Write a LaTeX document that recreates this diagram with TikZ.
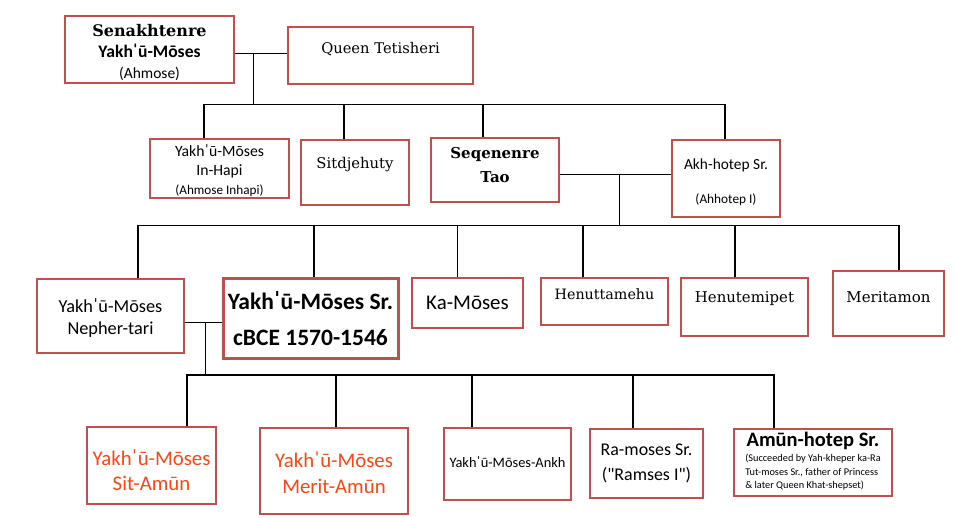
\documentclass[tikz,border=0pt]{standalone}
\usepackage{fontspec}
\setmainfont{Carlito}[Ligatures=TeXOff]
\newfontfamily\georg{DejaVu Serif}
\usetikzlibrary{arrows}
\definecolor{boxred}{RGB}{192,80,77}
\definecolor{kidred}{RGB}{250,70,20}
\newcommand\fsz[2]{\fontsize{#1}{#2}\selectfont}
\newcommand\vl{ˈ}

\begin{document}
\begin{tikzpicture}[x=1pt,y=-1pt,line width=1.3pt]
    \tikzstyle{box}=[draw=boxred,line width=1.4pt,inner sep=0pt]
    \tikzstyle{txt}=[align=center,inner sep=0pt]
    \useasboundingbox (0,0) rectangle (958,518);

    % first generation
    \node[box,minimum width=169,minimum height=67,
      label={[txt,yshift=-3,font=\fsz{17.6}{21}]center:{\georg\bfseries\fsz{16}{20}Senakhtenre}\\{\bfseries Yakh\vl ū-Mōses}\\{\fsz{15.5}{18}(Ahmose)}}] (sen) at (149.5,49.5) {};
    \node[box,minimum width=185,minimum height=57,
      label={[txt,yshift=6.5,font=\georg\fsz{14.7}{18}]center:Queen Tetisheri}] (tet) at (380.5,55.5) {};

    % second generation
    \node[box,minimum width=139,minimum height=59,
      label={[txt,yshift=-2,font=\fsz{15.7}{19}]center:Yakh\vl ū-Mōses\\In-Hapi\\{\fsz{13.2}{16}(Ahmose Inhapi)}}] (inhapi) at (219.5,168.5) {};
    \node[box,minimum width=108,minimum height=65,
      label={[txt,yshift=7.5,font=\georg\fsz{14.8}{18}]center:Sitdjehuty}] (sit) at (355,172.5) {};
    \node[box,minimum width=128,minimum height=64,
      label={[txt,yshift=5,font=\georg\bfseries\fsz{15}{23.4}]center:Seqenenre\\Tao}] (seq) at (495,170) {};
    \node[box,minimum width=108,minimum height=77,
      label={[txt,yshift=-4,font=\fsz{15.4}{18}]center:Akh-hotep Sr.\\[16pt]{\fsz{13.3}{16}(Ahhotep I)}}] (akh) at (726,178.5) {};

    % third generation
    \node[box,minimum width=147,minimum height=74,
      label={[txt,yshift=-2,font=\fsz{18.3}{21.7}]center:Yakh\vl ū-Mōses\\Nepher-tari}] (neph) at (110.5,316) {};
    \node[box,line width=3pt,minimum width=175,minimum height=80,
      label={[txt,font=\bfseries\fsz{23.5}{36}]center:Yakh\vl ū-Mōses Sr.\\cBCE 1570-1546}] (main) at (310.5,319) {};
    \node[box,minimum width=111,minimum height=50,
      label={[txt,font=\fsz{20.9}{24}]center:Ka-Mōses}] (ka) at (467.5,303) {};
    \node[box,minimum width=127,minimum height=47,
      label={[txt,yshift=7.5,font=\georg\fsz{14.3}{18}]center:Henuttamehu}] (henu) at (604.5,301.5) {};
    \node[box,minimum width=127,minimum height=58,
      label={[txt,yshift=8,font=\georg\fsz{14.9}{18}]center:Henutemipet}] (henut) at (744.5,307) {};
    \node[box,minimum width=111,minimum height=65,
      label={[txt,yshift=6.5,font=\georg\fsz{15}{18}]center:Meritamon}] (merit) at (888.5,303.5) {};

    % fourth generation
    \node[box,minimum width=129,minimum height=77,
      label={[txt,yshift=-5,text=kidred,font=\fsz{20.8}{25}]center:Yakh\vl ū-Mōses\\Sit-Amūn}] (sitamun) at (151.5,465.5) {};
    \node[box,minimum width=148,minimum height=86,
      label={[txt,yshift=-1.7,text=kidred,font=\fsz{20.8}{26.7}]center:Yakh\vl ū-Mōses\\Merit-Amūn}] (meritamun) at (334,471) {};
    \node[box,minimum width=127,minimum height=72,
      label={[txt,yshift=2.3,font=\fsz{14.4}{18}]center:Yakh\vl ū-Mōses-Ankh}] (ankh) at (507.5,464) {};
    \node[box,minimum width=113,minimum height=69,
      label={[txt,font=\fsz{17.9}{24.3}]center:Ra-moses Sr.\\("Ramses I")}] (ramoses) at (646.5,463.5) {};
    \node[box,minimum width=158,minimum height=67,
      label={[txt,font=\fsz{10.3}{13.6}]center:{\bfseries\fsz{20.5}{22}Amūn-hotep Sr.}\\[1pt]\begin{tabular}{@{}l@{}}(Succeeded by Yah-kheper ka-Ra\\Tut-moses Sr., father of Princess\\\& later Queen Khat-shepset)\end{tabular}}] (amun) at (813,462.5) {};

    % couples and their children
    \coordinate (m1) at (253.5,53.3);
    \draw (sen.east |- m1) -- (tet.west |- m1);
    \foreach \x/\n in {204/inhapi,344/sit,483/seq,725/akh}
      \coordinate (d\n) at (\x,104.5);
    \draw (m1) -- (m1 |- dsit);
    \draw (inhapi.north -| dinhapi) -- (dinhapi) -- (dakh) -- (akh.north -| dakh);
    \foreach \n in {sit,seq}
      \draw (d\n) -- (\n.north -| d\n);

    \coordinate (m2) at (619.3,174.3);
    \draw (seq.east |- m2) -- (akh.west |- m2);
    \foreach \x/\n in {138/neph,314/main,457.5/ka,583/henu,735/henut,899/merit}
      \coordinate (d\n) at (\x,225.5);
    \draw (m2) -- (m2 |- dka);
    \draw (neph.north -| dneph) -- (dneph) -- (dmerit) -- (merit.north -| dmerit);
    \foreach \n in {main,ka,henu,henut}
      \draw (d\n) -- (\n.north -| d\n);

    \coordinate (m3) at (205.5,322.3);
    \draw (neph.east |- m3) -- (main.west |- m3);
    \foreach \x/\n in {187/sitamun,336/meritamun,472/ankh,633/ramoses,774/amun}
      \coordinate (d\n) at (\x,375);
    \draw (m3) -- (m3 |- dankh);
    \draw (sitamun.north -| dsitamun) -- (dsitamun) -- (damun) -- (amun.north -| damun);
    \foreach \n in {meritamun,ankh,ramoses}
      \draw (d\n) -- (\n.north -| d\n);
\end{tikzpicture}
\end{document}
